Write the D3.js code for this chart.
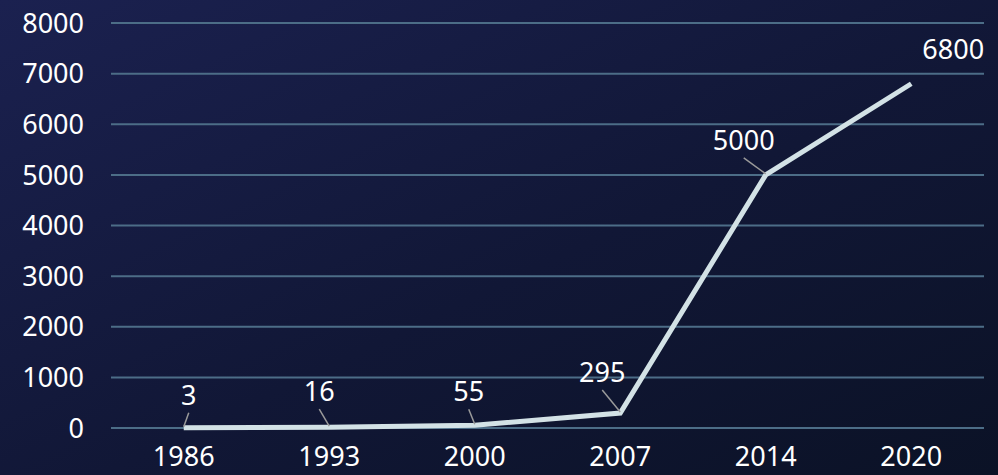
<!DOCTYPE html>
<html>
<head>
<meta charset="utf-8">
<script src="https://cdn.jsdelivr.net/npm/d3@7"></script>
<style>
  html, body { margin: 0; padding: 0; }
  body { width: 998px; height: 475px; overflow: hidden; }
</style>
</head>
<body>
<svg id="chart" width="998" height="475"></svg>
<script>
// the data
const years = ["1986", "1993", "2000", "2007", "2014", "2020"];
const values = [3, 16, 55, 295, 5000, 6800];
const yTicks = [0, 1000, 2000, 3000, 4000, 5000, 6000, 7000, 8000];

// where each value label sits relative to its point (dx, dy) and whether it gets a leader line
const labelOffsets = [[5, -33], [-10, -36], [-6, -34], [-18, -41], [-22, -35], [42, -34]];
const hasLeader = [true, true, true, true, true, false];

let svg = d3.select("#chart"),
width = +svg.attr("width"),
height = +svg.attr("height");

const margin = {top: 23, right: 14, bottom: 47, left: 111};
const fontFamily = "'Noto Sans', sans-serif";
const fontSize = 27;

// background gradient
let defs = svg.append("defs");
let bg = defs.append("linearGradient")
  .attr("id", "bg")
  .attr("x1", "0%").attr("y1", "0%")
  .attr("x2", "100%").attr("y2", "100%");
bg.append("stop").attr("offset", "0%").attr("stop-color", "#1b2150");
bg.append("stop").attr("offset", "55%").attr("stop-color", "#111736");
bg.append("stop").attr("offset", "100%").attr("stop-color", "#0b1226");

svg.append("rect")
  .attr("width", width).attr("height", height)
  .attr("fill", "url(#bg)");

let x = d3.scaleBand()
  .domain(years)
  .range([margin.left, width - margin.right]);

let y = d3.scaleLinear()
  .domain([0, 8000])
  .range([height - margin.bottom, margin.top]);

// gridlines
svg.append("g")
  .selectAll("line")
  .data(yTicks)
  .enter()
  .append("line")
  .attr("x1", margin.left)
  .attr("x2", width - margin.right)
  .attr("y1", d => y(d))
  .attr("y2", d => y(d))
  .attr("stroke", "#4c6d87")
  .attr("stroke-width", 2);

// y axis labels
svg.append("g")
  .selectAll("text")
  .data(yTicks)
  .enter()
  .append("text")
  .attr("x", 84)
  .attr("y", d => y(d))
  .attr("dy", "0.36em")
  .attr("text-anchor", "end")
  .attr("fill", "#ffffff")
  .attr("font-family", fontFamily)
  .attr("font-size", fontSize)
  .text(d => d);

// x axis labels
svg.append("g")
  .selectAll("text")
  .data(years)
  .enter()
  .append("text")
  .attr("x", d => x(d) + x.bandwidth() / 2)
  .attr("y", 466)
  .attr("text-anchor", "middle")
  .attr("fill", "#ffffff")
  .attr("font-family", fontFamily)
  .attr("font-size", fontSize)
  .text(d => d);

let cx = i => x(years[i]) + x.bandwidth() / 2;

// the line
let line = d3.line()
  .x((d, i) => cx(i))
  .y(d => y(d));

svg.append("path")
  .datum(values)
  .attr("d", line)
  .attr("fill", "none")
  .attr("stroke", "#d3e2e6")
  .attr("stroke-width", 5)
  .attr("stroke-linejoin", "miter");

// leader lines from the label to its point
let pts = values.map((v, i) => ({v: v, i: i})).filter(p => hasLeader[p.i]);

svg.append("g")
  .selectAll("line")
  .data(pts)
  .enter()
  .append("line")
  .attr("x1", p => cx(p.i) + labelOffsets[p.i][0])
  .attr("y1", p => y(p.v) + labelOffsets[p.i][1] + 18)
  .attr("x2", p => cx(p.i))
  .attr("y2", p => y(p.v) - 1)
  .attr("stroke", "#9a9a9a")
  .attr("stroke-width", 1.5);

// value labels
svg.append("g")
  .selectAll("text")
  .data(values)
  .enter()
  .append("text")
  .attr("x", (d, i) => cx(i) + labelOffsets[i][0])
  .attr("y", (d, i) => y(d) + labelOffsets[i][1])
  .attr("dy", "0.36em")
  .attr("text-anchor", "middle")
  .attr("fill", "#ffffff")
  .attr("font-family", fontFamily)
  .attr("font-size", fontSize)
  .text(d => d);
</script>
</body>
</html>
